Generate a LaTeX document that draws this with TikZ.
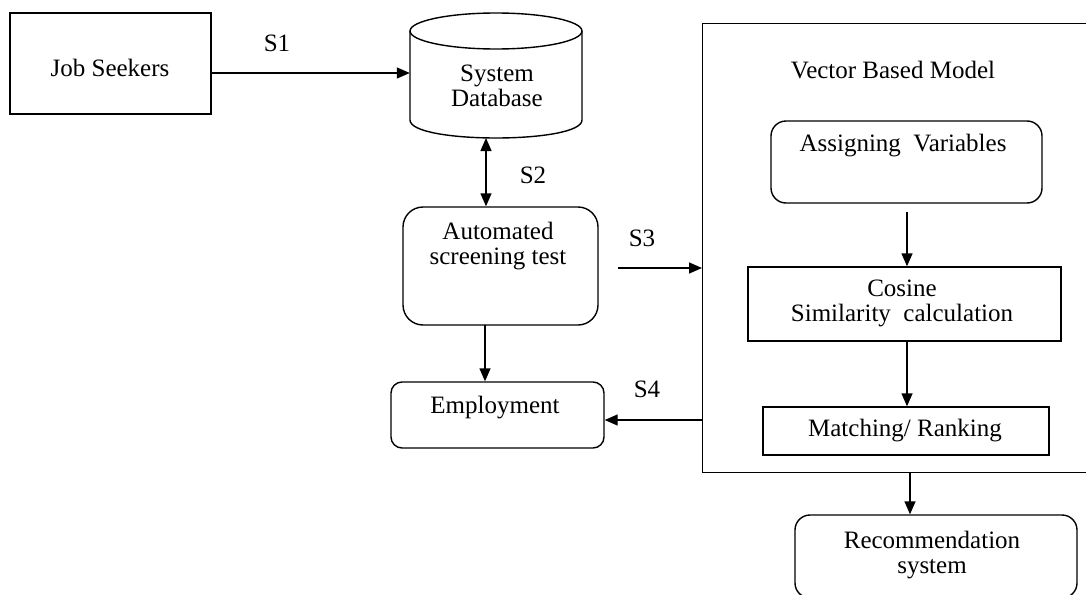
\documentclass[tikz,border=0pt]{standalone}
\usepackage{fontspec}
\setmainfont{Liberation Serif}
\usetikzlibrary{arrows.meta}
\begin{document}
\begin{tikzpicture}[x=1pt,y=-1pt,
  every node/.style={font=\fontsize{25}{25}\selectfont, inner sep=0pt},
  lbl/.style={align=center},
  frame/.style={draw, line width=1.4pt},
  arr/.style={line width=1.4pt, -{Triangle[length=13pt,width=11pt]}},
  darr/.style={line width=1.4pt, {Triangle[length=13pt,width=11pt]}-{Triangle[length=13pt,width=11pt]}}
]
\useasboundingbox (0,0) rectangle (1086,594);
\clip (0,0) rectangle (1086,594);
% Job seekers
\node[frame, minimum width=201pt, minimum height=101pt] (js) at (110.5,63.5) {};
\node[lbl] (jst) at (110,68) {Job Seekers};
% Database cylinder
\draw[line width=1.4pt] (410,31) -- (410,120) .. controls (410,144) and (582,144) .. (582,120) -- (582,31);
\draw[line width=1.4pt] (496,31) ellipse[x radius=86,y radius=18];
\node[minimum width=172pt, minimum height=125pt] (db) at (496,75.5) {};
\node[lbl] (dbt) at (497,86) {System\\Database};
% Automated screening test
\node[frame, rounded corners=20pt, minimum width=195pt, minimum height=118pt] (auto) at (500.5,266) {};
\node[lbl] (autot) at (498,246) {Automated\\screening test};
% Employment
\node[frame, rounded corners=11pt, minimum width=213pt, minimum height=66pt] (emp) at (497.5,415) {};
\node[lbl] (empt) at (495,408) {Employment};
% Big box
\node[frame, minimum width=420pt, minimum height=449pt, anchor=north west] (vbm) at (702,23) {};
\node[lbl] (vbmt) at (893,70) {Vector Based Model};
% Assigning variables
\node[frame, rounded corners=15pt, minimum width=271pt, minimum height=82pt] (asg) at (906.5,162) {};
\node[lbl] (asgt) at (903,146) {Assigning\ \ Variables};
% Cosine
\node[frame, minimum width=313pt, minimum height=74pt] (cos) at (904.5,304) {};
\node[lbl] (cost) at (902,303) {Cosine\\Similarity\ \ calculation};
% Matching
\node[frame, minimum width=286pt, minimum height=48pt] (mat) at (906,431) {};
\node[lbl] (matt) at (905,431) {Matching/ Ranking};
% Recommendation
\node[frame, rounded corners=15pt, minimum width=282pt, minimum height=83pt] (rec) at (936,556.5) {};
\node[lbl] (rect) at (932,555) {Recommendation\\system};
% labels
\node (s1) at (277,43) {S1};
\node (s2) at (533,175) {S2};
\node (s3) at (642,238) {S3};
\node (s4) at (647,389) {S4};
% connectors
\coordinate (a1) at (211,73);
\draw[arr] (a1) -- (a1 -| db.west);
\coordinate (a2) at (486,138);
\draw[darr] (a2) -- (a2 |- auto.north);
\coordinate (a3) at (485,325);
\draw[arr] (a3) -- (a3 |- emp.north);
\coordinate (a4) at (618,268);
\draw[arr] (a4) -- (a4 -| vbm.west);
\coordinate (a5) at (702,420);
\draw[arr] (a5) -- (a5 -| emp.east) ;
\coordinate (a6) at (907,212);
\draw[arr] (a6) -- (a6 |- cos.north);
\coordinate (a7) at (907,341);
\draw[arr] (a7) -- (a7 |- mat.north);
\coordinate (a8) at (910,472);
\draw[arr] (a8) -- (a8 |- rec.north);
\end{tikzpicture}
\end{document}
